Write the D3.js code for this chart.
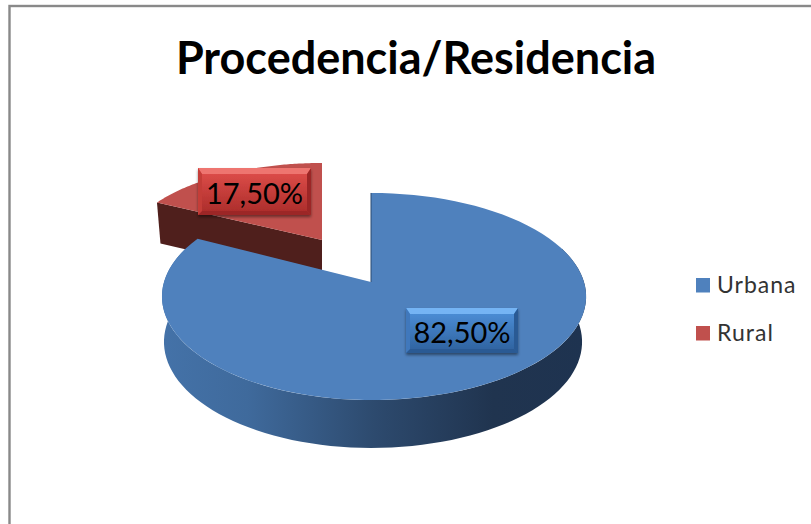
<!DOCTYPE html>
<html><head><meta charset="utf-8">
<script src="https://cdnjs.cloudflare.com/ajax/libs/d3/7.8.5/d3.min.js"></script>
<style>html,body{margin:0;padding:0;background:#fff}svg{display:block}text{font-family:Lato,"Open Sans",sans-serif}</style>
</head><body><div id="c"></div>
<script>
const categories = ["Urbana", "Rural"];
const values = [82.5, 17.5];
const colors = ["#4f81bd", "#c0504d"];
const chartTitle = "Procedencia/Residencia";

const W = 811, H = 524;
const svg = d3.select("#c").append("svg").attr("width", W).attr("height", H);
const defs = svg.append("defs");

function lg(id, stops, attrs) {
  const g = defs.append("linearGradient").attr("id", id);
  Object.entries(attrs).forEach(([k, v]) => g.attr(k, v));
  stops.forEach(s => g.append("stop").attr("offset", s[0]).attr("stop-color", s[1]));
}
lg("sideBlue", [[0, "#4472a8"], [0.2, "#3f6a9c"], [0.5, "#2d4a6e"], [0.78, "#20344f"], [1, "#1e3350"]],
  {gradientUnits: "userSpaceOnUse", x1: 163, x2: 586, y1: 0, y2: 0});
lg("boxBlue", [[0, "#4f92dc"], [1, "#2d609c"]], {x1: 0, x2: 0, y1: 0, y2: 1});
lg("boxRed", [[0, "#e2504c"], [1, "#a92b29"]], {x1: 0, x2: 0, y1: 0, y2: 1});
const sh = defs.append("filter").attr("id", "shadow").attr("x", "-10%").attr("y", "-10%").attr("width", "120%").attr("height", "130%");
sh.append("feDropShadow").attr("dx", 0).attr("dy", 2).attr("stdDeviation", 1.5).attr("flood-color", "#000").attr("flood-opacity", 0.45);

// chart frame
svg.append("rect").attr("x", 9.5).attr("y", 6).attr("width", W + 20).attr("height", H + 20)
  .attr("fill", "#fff").attr("stroke", "#898989").attr("stroke-width", 2.4);

svg.append("text").attr("x", 416).attr("y", 73.5).attr("text-anchor", "middle")
  .attr("font-size", 45).attr("font-weight", 700).attr("fill", "#000").text(chartTitle);

// pie angles from the data
const arcs = d3.pie().sort(null)(values);

// Perspective projection of a unit disc onto the page
const k = 0.14;
function project(theta, o) {
  const u = Math.sin(theta), v = Math.cos(theta), d = 1 + k * v;
  const b = u > 0 ? o.bR : o.bL;
  return [o.x + b * u / d, o.y - o.a * v / d];
}
const topView   = {x: 371, y: 282, a: 101.5, bL: 207, bR: 213};
const baseView  = {x: 371, y: 327, a: 104,   bL: 205, bR: 209};
const redTop    = {x: 322, y: 240, a: 87.8,  bL: 197, bR: 197};
const redBase   = {x: 323, y: 281, a: 87.8,  bL: 194, bR: 194};

function rim(start, end, view) {
  const n = 90;
  return d3.range(n + 1).map(i => project(start + (end - start) * i / n, view));
}
const line = d3.line();
const rad = d => d * Math.PI / 180;

// Rural (exploded) drawn first, blue overlaps it
const r = arcs[1];
const g = svg.append("g");
g.append("path").attr("fill", "#4f1f1c")
  .attr("d", line([project(r.startAngle, redTop), project(r.startAngle, redBase), [redTop.x, redBase.y], [redTop.x, redTop.y]]) + "Z");
g.append("path").attr("fill", colors[1])
  .attr("d", line([[redTop.x, redTop.y], ...rim(r.startAngle, r.endAngle, redTop)]) + "Z");

// Urbana: side wall then top
const u = arcs[0];
const frontA = Math.max(u.startAngle, rad(70)), frontB = Math.min(u.endAngle, rad(290));
g.append("path").attr("fill", "url(#sideBlue)")
  .attr("d", line([...rim(frontA, frontB, topView), ...rim(frontB, frontA, baseView)]) + "Z");
g.append("path").attr("fill", colors[0])
  .attr("d", line([[topView.x, topView.y], ...rim(u.startAngle, u.endAngle, topView)]) + "Z");
g.append("line").attr("x1", topView.x).attr("y1", topView.y)
  .attr("x2", project(0, topView)[0]).attr("y2", project(0, topView)[1])
  .attr("stroke", "#2b4a70").attr("stroke-width", 1);

// data labels
const labelBoxes = [
  {x: 406, y: 308, w: 112, h: 45, fill: "url(#boxBlue)", hi: "#74b4f4", lo: "#2a5a94", side: "#3f78bc"},
  {x: 198, y: 168, w: 113, h: 47, fill: "url(#boxRed)", hi: "#ee7470", lo: "#9c2826", side: "#c43c39"}
];
const fmt = d3.format(".2f");
arcs.forEach((a, i) => {
  const b = labelBoxes[i], e = 4;
  const lb = svg.append("g").attr("filter", "url(#shadow)");
  lb.append("rect").attr("x", b.x).attr("y", b.y).attr("width", b.w).attr("height", b.h).attr("fill", b.fill);
  lb.append("path").attr("fill", b.hi).attr("d", line([[b.x, b.y], [b.x + b.w, b.y], [b.x + b.w - e, b.y + e + 2], [b.x + e, b.y + e + 2]]) + "Z");
  lb.append("path").attr("fill", b.lo).attr("d", line([[b.x, b.y + b.h], [b.x + b.w, b.y + b.h], [b.x + b.w - e, b.y + b.h - e], [b.x + e, b.y + b.h - e]]) + "Z");
  lb.append("path").attr("fill", b.side).attr("d", line([[b.x, b.y], [b.x + e, b.y + e + 2], [b.x + e, b.y + b.h - e], [b.x, b.y + b.h]]) + "Z");
  lb.append("path").attr("fill", b.lo).attr("d", line([[b.x + b.w, b.y], [b.x + b.w - e, b.y + e + 2], [b.x + b.w - e, b.y + b.h - e], [b.x + b.w, b.y + b.h]]) + "Z");
  svg.append("text").attr("x", b.x + b.w / 2).attr("y", b.y + b.h / 2 + 12).attr("text-anchor", "middle")
    .attr("font-size", 29).attr("fill", "#000")
    .text(fmt(values[i]).replace(".", ",") + "%");
});

// legend
const ly = d3.scalePoint().domain(categories).range([285, 333]);
categories.forEach((c, i) => {
  svg.append("rect").attr("x", 696).attr("y", ly(c) - 7).attr("width", 14).attr("height", 14.5).attr("fill", colors[i]);
  svg.append("text").attr("x", 717).attr("y", ly(c) + 8).attr("font-size", 23).attr("letter-spacing", 1).attr("fill", "#333").text(c);
});
</script></body></html>
